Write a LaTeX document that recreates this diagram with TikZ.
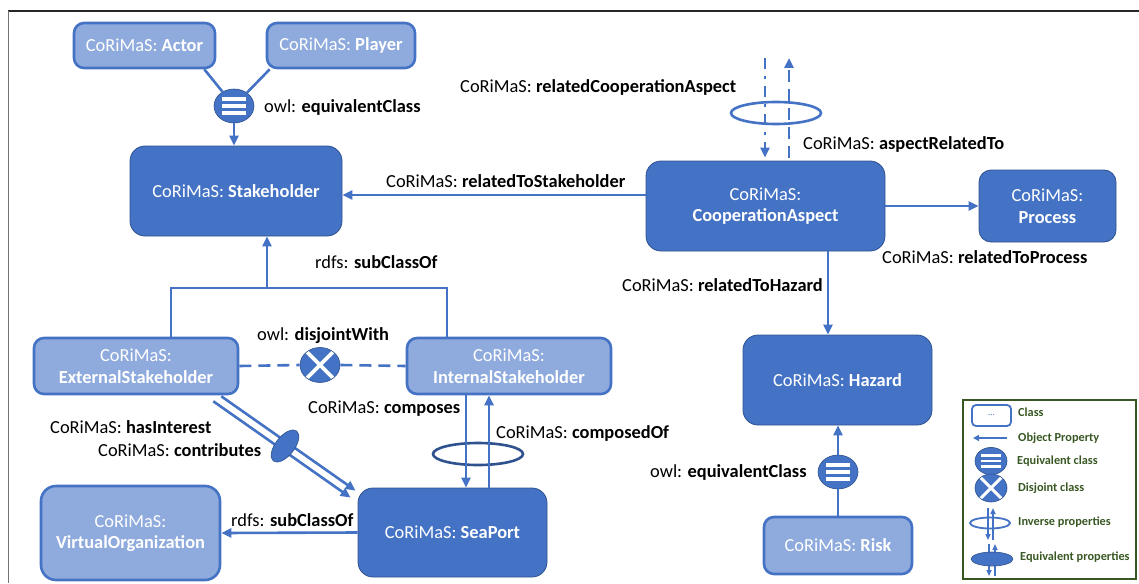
\documentclass[tikz,border=0pt]{standalone}
\usepackage{fontspec}
\setmainfont{Carlito}
\usetikzlibrary{positioning,arrows.meta,shapes.geometric}
\definecolor{cblue}{HTML}{4472C4}
\definecolor{clight}{HTML}{8FAADC}
\definecolor{cdark}{HTML}{2F528F}
\definecolor{cgreen}{HTML}{385723}

\begin{document}
\begin{tikzpicture}[
  x=1pt, y=-1pt,
  font=\fontsize{18.4}{21.5}\selectfont,
  cls/.style={draw=cdark, line width=0.8pt, fill=cblue, rounded corners=15pt, text=white, align=center, inner sep=2pt},
  lcls/.style={draw=cblue, line width=2.6pt, fill=clight, rounded corners=10pt, text=white, align=center, inner sep=2pt},
  link/.style={draw=cblue, line width=2.6pt},
  prop/.style={link, -{Triangle[length=10pt, width=9pt]}},
  lbl/.style={anchor=west, inner sep=0pt},
  eqv/.style={ellipse, fill=cblue, draw=cdark, line width=0.6pt, minimum width=40*#1, minimum height=34*#1, inner sep=0pt,
    path picture={\foreach \dy in {-7,0,7}{\draw[white, line width=3.6*#1 pt] ([xshift=-12*#1 pt, yshift=\dy*#1 pt]path picture bounding box.center) -- ++(24*#1 pt,0pt);}}},
  eqv/.default=1,
  disj/.style={ellipse, fill=cblue, draw=cdark, line width=0.6pt, minimum width=40*#1, minimum height=35*#1, inner sep=0pt,
    path picture={\draw[white, line width=3.6*#1 pt] ([shift={(-20pt,20pt)}]path picture bounding box.center) -- ++(40pt,-40pt) ([shift={(-20pt,-20pt)}]path picture bounding box.center) -- ++(40pt,40pt);}},
  disj/.default=1,
  inv/.style={ellipse, draw=cblue, line width=2.6pt, minimum width=90pt, minimum height=22pt, inner sep=0pt},
  eqp/.style={ellipse, fill=cblue, draw=cdark, line width=0.6pt, inner sep=0pt},
  lgt/.style={anchor=west, inner sep=0pt, text=cgreen, font=\fontsize{12.3}{14}\selectfont\bfseries}
]
\useasboundingbox (0,0) rectangle (1139,583);
% frame
\draw[line width=1.8pt, black!85] (8,11) -- (1139,11);
\draw[line width=1pt, black!55] (8,11) -- (8,583);

% classes
\node[lcls, minimum width=141pt, minimum height=45pt] (actor) at (144.5,45.5) {CoRiMaS: \textbf{Actor}};
\node[lcls, minimum width=148pt, minimum height=45pt] (player) at (341,45.5) {CoRiMaS: \textbf{Player}};
\node[cls, minimum width=212pt, minimum height=90pt] (stake) at (236,191) {CoRiMaS: \textbf{Stakeholder}};
\node[cls, minimum width=239pt, minimum height=90pt] (coop) at (765.5,206) {CoRiMaS:\\\textbf{CooperationAspect}};
\node[cls, minimum width=137pt, minimum height=72pt, rounded corners=12pt] (proc) at (1047.5,206) {CoRiMaS:\\\textbf{Process}};
\node[cls, minimum width=189pt, minimum height=90pt] (hazard) at (837.5,380) {CoRiMaS: \textbf{Hazard}};
\node[lcls, minimum width=148pt, minimum height=57pt] (risk) at (838,545.5) {CoRiMaS: \textbf{Risk}};
\node[lcls, minimum width=204pt, minimum height=56pt] (ext) at (136,366) {CoRiMaS:\\\textbf{ExternalStakeholder}};
\node[lcls, minimum width=204pt, minimum height=56pt] (int) at (509,366) {CoRiMaS:\\\textbf{InternalStakeholder}};
\node[cls, minimum width=189pt, minimum height=89pt] (sea) at (452.5,532.5) {CoRiMaS: \textbf{SeaPort}};
\node[lcls, minimum width=179pt, minimum height=94pt, rounded corners=15pt] (vorg) at (130.5,533) {CoRiMaS:\\\textbf{VirtualOrganization}};

% equivalence and disjointness
\node[eqv] (eqA) at (234,106) {};
\node[eqv] (eqB) at (838,472) {};
\node[disj] (disX) at (320,365) {};
\node[inv] (invTop) at (776,113) {};
\node[inv, draw=cdark] (invCmp) at (478,454) {};

\draw[link] ([xshift=-12pt]actor.south east) -- (eqA);
\draw[link] ([xshift=4pt]player.south west) -- (eqA);
\draw[prop] (eqA.south) -- (eqA.south |- stake.north);
\draw[link] (risk.north) -- (eqB.south);
\draw[prop] (eqB.north) -- (eqB.north |- hazard.south);
\draw[link, dash pattern=on 12pt off 7pt] (ext.east) -- (disX.west);
\draw[link, dash pattern=on 12pt off 7pt] (disX.east) -- (int.west);

% object properties
\draw[prop] ([yshift=11pt]coop.west) -- ([yshift=11pt]coop.west -| stake.east);
\draw[prop] (coop.east) -- (proc.west);
\draw[prop] ([xshift=-9.5pt]hazard.north |- coop.south) -- ([xshift=-9.5pt]hazard.north);
\draw[prop] (sea.west) -- (vorg.east);
\coordinate (rcaEnd) at (765,58);
\coordinate (artEnd) at (789,58);
\draw[prop, dash pattern=on 11pt off 7pt on 3pt off 7pt, shorten >=3pt] (rcaEnd) -- (rcaEnd |- coop.north);
\draw[prop, dash pattern=on 12pt off 7pt, shorten <=3pt] (artEnd |- coop.north) -- (artEnd);
\draw[prop] ([xshift=-43pt]int.south) -- ([xshift=-43pt]int.south |- sea.north);
\draw[prop] ([xshift=-20pt]int.south |- sea.north) -- ([xshift=-20pt]int.south);
\draw[prop] ([shift={(-26,6)}]ext.south east) -- ([shift={(-7,10)}]sea.north west);
\draw[prop] ([shift={(-18,1)}]ext.south east) -- ([shift={(-2,3)}]sea.north west);
\node[eqp, minimum width=38pt, minimum height=19pt, rotate=52] (eqProp) at (285,446) {};

% subclass tree
\coordinate (treeTop) at (267,288);
\draw[link] ([xshift=35pt]ext.north) |- (treeTop) -| ([xshift=-62pt]int.north);
\draw[prop] (treeTop) -- (treeTop |- stake.south);

% labels
\node[lbl] (eqlblA) at (264,107) {owl: \textbf{equivalentClass}};
\node[lbl] (rcaLbl) at (460,87) {CoRiMaS: \textbf{relatedCooperationAspect}};
\node[lbl] (artLbl) at (803,144) {CoRiMaS: \textbf{aspectRelatedTo}};
\node[lbl] (rtsLbl) at (386,181) {CoRiMaS: \textbf{relatedToStakeholder}};
\node[lbl] (rtpLbl) at (882,257) {CoRiMaS: \textbf{relatedToProcess}};
\node[lbl] (rthLbl) at (622,285) {CoRiMaS: \textbf{relatedToHazard}};
\node[lbl] (subLbl) at (315,262) {rdfs: \textbf{subClassOf}};
\node[lbl] (disLbl) at (257,336) {owl: \textbf{disjointWith}};
\node[lbl] (cmpLbl) at (308,409) {CoRiMaS: \textbf{composes}};
\node[lbl] (cofLbl) at (496,433) {CoRiMaS: \textbf{composedOf}};
\node[lbl] (hasLbl) at (50,427) {CoRiMaS: \textbf{hasInterest}};
\node[lbl] (conLbl) at (98,450) {CoRiMaS: \textbf{contributes}};
\node[lbl] (eqlblB) at (650,472) {owl: \textbf{equivalentClass}};
\node[lbl] (sub2Lbl) at (231,520) {rdfs: \textbf{subClassOf}};

% legend
\node[draw=cgreen, line width=2.2pt, minimum width=173pt, minimum height=179pt] (legend) at (1049.5,489.5) {};
\node[draw=cblue, line width=1.8pt, fill=white, rounded corners=4pt, minimum width=39pt, minimum height=21pt, inner sep=0pt,
  text=cblue, font=\fontsize{9}{10}\selectfont] (lgClass) at (991.5,415.5) {...};
\coordinate (lgPa) at (1007,438);
\coordinate (lgPb) at (973,438);
\draw[link, line width=2pt, -{Triangle[length=6pt, width=6pt]}] (lgPa) -- (lgPb);
\node[eqv=0.8] (lgEqv) at (991,461) {};
\node[disj=0.8] (lgDisj) at (991,488) {};
\node[ellipse, draw=cblue, line width=1.8pt, minimum width=40pt, minimum height=11pt, inner sep=0pt] (lgInv) at (990,523) {};
\coordinate (lgIa) at (988,508);
\coordinate (lgIb) at (993,540);
\draw[link, line width=1.8pt, -{Triangle[length=6pt, width=5pt]}] (lgIa) -- (lgIa |- lgIb);
\draw[link, line width=1.8pt, -{Triangle[length=6pt, width=5pt]}] (lgIb) -- (lgIb |- lgIa);
\coordinate (lgEa) at (989,544);
\coordinate (lgEb) at (995,576);
\draw[link, line width=1.8pt, -{Triangle[length=6pt, width=5pt]}] (lgEa) -- (lgEa |- lgEb);
\draw[link, line width=1.8pt, -{Triangle[length=6pt, width=5pt]}] (lgEb) -- (lgEb |- lgEa);
\node[eqp, minimum width=42pt, minimum height=14pt] (lgEqp) at (992,559) {};
\node[lgt] (lgtClass) at (1018,412) {Class};
\node[lgt] (lgtProp) at (1018,438) {Object Property};
\node[lgt] (lgtEqv) at (1017,461) {Equivalent class};
\node[lgt] (lgtDisj) at (1018,488) {Disjoint class};
\node[lgt] (lgtInv) at (1018,522) {Inverse properties};
\node[lgt] (lgtEqp) at (1020,557) {Equivalent properties};
\end{tikzpicture}
\end{document}
